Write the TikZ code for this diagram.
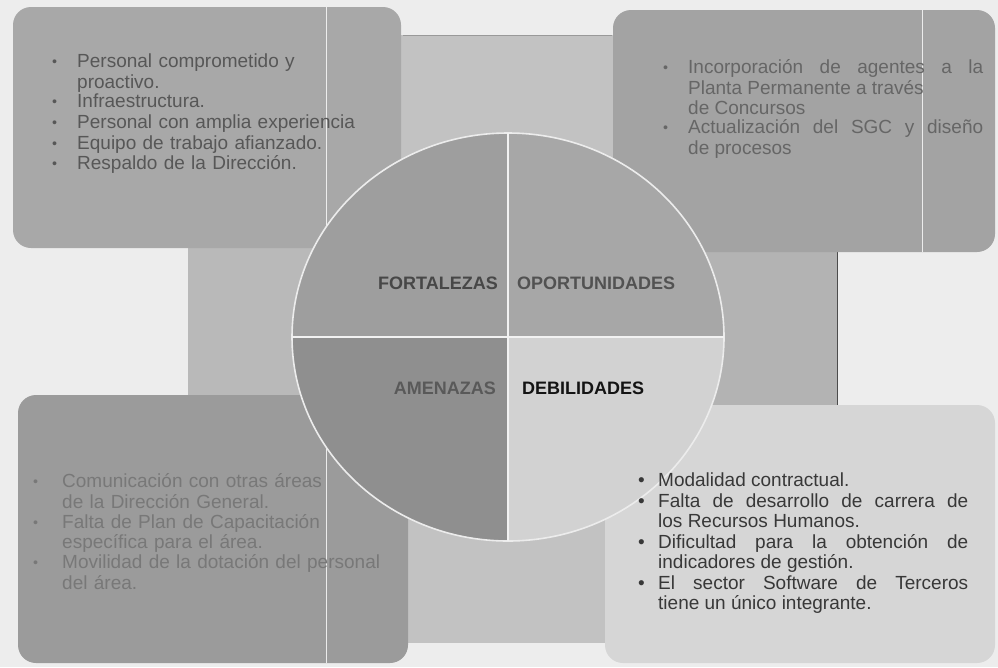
\documentclass[tikz,border=0pt]{standalone}
\usepackage{fontspec}
\setmainfont{Liberation Sans}
\tolerance=10000
\hbadness=10000
\definecolor{pagebg}{HTML}{EDEDED}
\definecolor{bgmid}{HTML}{C2C2C2}
\definecolor{bgleft}{HTML}{B9B9B9}
\definecolor{bgright}{HTML}{B3B3B3}
\definecolor{boxtl}{HTML}{A8A8A8}
\definecolor{boxtr}{HTML}{A3A3A3}
\definecolor{boxbl}{HTML}{9B9B9B}
\definecolor{boxbr}{HTML}{D6D6D6}
\definecolor{pietl}{HTML}{9E9E9E}
\definecolor{pietr}{HTML}{A7A7A7}
\definecolor{piebl}{HTML}{8F8F8F}
\definecolor{piebr}{HTML}{D2D2D2}
\definecolor{txttl}{HTML}{575757}
\definecolor{txttr}{HTML}{666666}
\definecolor{txtbl}{HTML}{787878}
\definecolor{txtbr}{HTML}{383838}
\newcommand{\smbul}{\raisebox{0.1ex}{\scalebox{0.75}{\textbullet}}}
\newcommand{\itm}[2]{\par\noindent\hangindent=#1\hangafter=1\makebox[#1][l]{\smbul}\strut\ignorespaces#2\par}
\newcommand{\itmb}[2]{\par\noindent\hangindent=#1\hangafter=1\makebox[#1][l]{\textbullet}\strut\ignorespaces#2\par}
\begin{document}
\begin{tikzpicture}[x=1pt,y=-1pt,
  cornerbox/.style={rounded corners=18pt},
  listtext/.style={anchor=north west, inner sep=0pt, font=\fontsize{19}{19.5}\selectfont},
  pielabel/.style={inner sep=0pt, font=\fontsize{18}{20}\selectfont\bfseries},
  artifact/.style={draw=white, line width=0.8pt, opacity=0.8}]
\useasboundingbox (0,0) rectangle (998,667);
\fill[pagebg] (0,0) rectangle (998,667);
% central background
\fill[bgmid] (188,35) rectangle (837,643);
\fill[bgleft] (188,247) rectangle (320,397);
\fill[bgright] (700,250) rectangle (837,405);
\draw[draw=gray!80, line width=0.6pt] (403,35) -- (612,35);
\draw[draw=black!70, line width=0.8pt] (837,252) -- (837,405);
% corner boxes
\fill[boxtl, cornerbox] (13,7) rectangle (401,248);
\fill[boxtr, cornerbox] (613,10) rectangle (995,252);
\fill[boxbl, cornerbox] (18,395) rectangle (408,663);
\fill[boxbr, cornerbox] (605,405) rectangle (995,663);
% artifact lines
\draw[artifact] (326,7) -- (326,663);
\draw[artifact] (922,10) -- (922,252);
% pie
\coordinate (c) at (508,337);
\fill[pietl] (c) -- (292,337) arc[start angle=180, end angle=270, x radius=216, y radius=204] -- cycle;
\fill[pietr] (c) -- (508,133) arc[start angle=270, end angle=360, x radius=216, y radius=204] -- cycle;
\fill[piebr] (c) -- (724,337) arc[start angle=0, end angle=90, x radius=216, y radius=204] -- cycle;
\fill[piebl] (c) -- (508,541) arc[start angle=90, end angle=180, x radius=216, y radius=204] -- cycle;
\draw[white!85!gray, line width=1.6pt] (c) ellipse[x radius=216, y radius=204];
\draw[white!90!gray, line width=2pt] (508,133) -- (508,541);
\draw[white!90!gray, line width=2pt] (292,337) -- (724,337);
\node[pielabel, anchor=east, text=black!72] (fo) at (498,283) {FORTALEZAS};
\node[pielabel, anchor=west, text=black!68] (op) at (517,283) {OPORTUNIDADES};
\node[pielabel, anchor=east, text=black!65] (am) at (496,388) {AMENAZAS};
\node[pielabel, anchor=west, text=black!92] (de) at (522,388) {DEBILIDADES};
% lists
\node[listtext, text width=330pt, align=left, text=txttl] (ftext) at (52,48) {%
\itm{25pt}{Personal comprometido y\newline proactivo.}%
\itm{25pt}{Infraestructura.}%
\itm{25pt}{Personal con amplia experiencia}%
\itm{25pt}{Equipo de trabajo afianzado.}%
\itm{25pt}{Respaldo de la Dirección.}};
\node[listtext, text width=320pt, align=justify, text=txttr] (otext) at (663,54) {%
\itm{25pt}{Incorporación de agentes a la\linebreak Planta Permanente a través\newline de Concursos}%
\itm{25pt}{Actualización del SGC y diseño\linebreak de procesos}};
\node[listtext, text width=370pt, align=left, text=txtbl] (atext) at (33,468) {%
\itm{29pt}{Comunicación con otras áreas\newline de la Dirección General.}%
\itm{29pt}{Falta de Plan de Capacitación\newline específica para el área.}%
\itm{29pt}{Movilidad de la dotación del personal\newline del área.}};
\node[listtext, text width=330pt, align=justify, text=txtbr, font=\fontsize{19}{20.5}\selectfont] (dtext) at (638,466) {%
\itmb{20pt}{Modalidad contractual.}%
\itmb{20pt}{Falta de desarrollo de carrera de\linebreak los Recursos Humanos.}%
\itmb{20pt}{Dificultad para la obtención de\linebreak indicadores de gestión.}%
\itmb{20pt}{El sector Software de Terceros\linebreak tiene un único integrante.}};
\end{tikzpicture}
\end{document}
